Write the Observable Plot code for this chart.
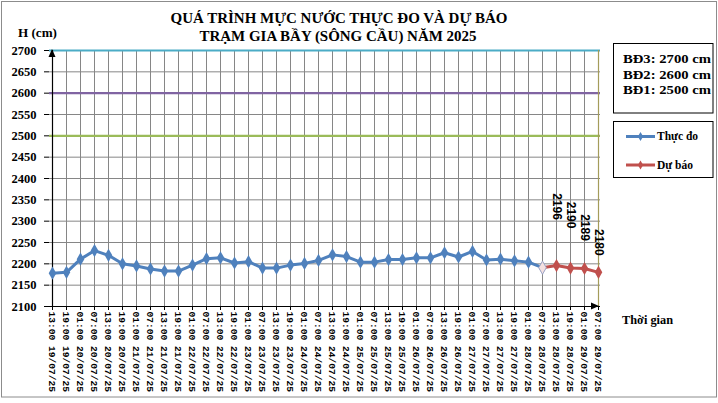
<!DOCTYPE html>
<html>
<head>
<meta charset="utf-8">
<script src="https://cdn.jsdelivr.net/npm/d3@7"></script>
<script src="https://cdn.jsdelivr.net/npm/@observablehq/plot@0.6"></script>
<style>
  html, body { margin: 0; padding: 0; background: #fff; }
  #chart { position: relative; width: 718px; height: 403px; }
  #chart svg { display: block; }
</style>
</head>
<body>
<div id="chart"></div>
<script>
// ---------- DATA ----------
const times = [
  "13:00 19/07/25","19:00 19/07/25",
  "01:00 20/07/25","07:00 20/07/25","13:00 20/07/25","19:00 20/07/25",
  "01:00 21/07/25","07:00 21/07/25","13:00 21/07/25","19:00 21/07/25",
  "01:00 22/07/25","07:00 22/07/25","13:00 22/07/25","19:00 22/07/25",
  "01:00 23/07/25","07:00 23/07/25","13:00 23/07/25","19:00 23/07/25",
  "01:00 24/07/25","07:00 24/07/25","13:00 24/07/25","19:00 24/07/25",
  "01:00 25/07/25","07:00 25/07/25","13:00 25/07/25","19:00 25/07/25",
  "01:00 26/07/25","07:00 26/07/25","13:00 26/07/25","19:00 26/07/25",
  "01:00 27/07/25","07:00 27/07/25","13:00 27/07/25","19:00 27/07/25",
  "01:00 28/07/25","07:00 28/07/25","13:00 28/07/25","19:00 28/07/25",
  "01:00 29/07/25","07:00 29/07/25"
];
// Observed water level (cm), 13:00 19/07 -> 07:00 28/07
const observed = [
  2178, 2180, 2211, 2231, 2220, 2200, 2195, 2188, 2183, 2183,
  2197, 2212, 2214, 2202, 2205, 2190, 2190, 2197, 2201, 2208,
  2221, 2217, 2204, 2204, 2210, 2210, 2214, 2214, 2226, 2216,
  2229, 2209, 2211, 2207, 2204, 2191
];
// Forecast (cm), starting from the last observed time 07:00 28/07
const forecast = [2191, 2196, 2190, 2189, 2180];
// Alarm levels
const alarmNames = ["BĐ3", "BĐ2", "BĐ1"];
const alarmLevels = [2700, 2600, 2500];
const yTicks = [2100, 2150, 2200, 2250, 2300, 2350, 2400, 2450, 2500, 2550, 2600, 2650, 2700];

// ---------- STYLE ----------
const alarmColors = ["#4bacc6", "#8064a2", "#9bbb59"];
const blue = "#4f81bd";
const red = "#c0504d";
const gridColor = "#868686";
const labelDy = [-59, -53, -41, -30];

const obsData = observed.map((v, i) => ({t: times[i], v}));
const fcStart = observed.length - 1;
const fcData = forecast.map((v, i) => ({t: times[fcStart + i], v}));
const alarmData = alarmLevels.map((v, i) => ({v, name: alarmNames[i], color: alarmColors[i]}));

const serif = "'Liberation Serif', 'Times New Roman', serif";

const chart = Plot.plot({
  width: 718,
  height: 403,
  marginLeft: 49,
  marginRight: 118,
  marginTop: 50,
  marginBottom: 97,
  style: {fontFamily: serif, background: "transparent", color: "#000", overflow: "visible"},
  x: {type: "point", domain: times, padding: 0},
  y: {domain: [2100, 2700]},
  marks: [
    Plot.gridX(times, {stroke: gridColor, strokeOpacity: 1, strokeWidth: 1}),
    Plot.gridY(yTicks, {stroke: gridColor, strokeOpacity: 1, strokeWidth: 1}),
    Plot.ruleY(alarmData, {y: "v", stroke: "color", strokeWidth: 2.2}),
    Plot.ruleX([times[times.length - 1]], {stroke: "#a49c5a", strokeWidth: 1.2}),
    Plot.axisY(yTicks, {tickSize: 5, tickPadding: 8, fontSize: 12.5, fontWeight: "bold", label: null, fill: "#000", tickFormat: (d) => String(d)}),
    Plot.axisX(times, {tickRotate: 90, tickSize: 4, tickPadding: 1, fontSize: 9.6, fontWeight: "bold", fontFamily: "'Liberation Mono', 'Courier New', monospace", label: null, fill: "#000"}),
    Plot.ruleX([times[0]], {stroke: "#000", strokeWidth: 1.2}),
    Plot.ruleY([2100], {stroke: "#000", strokeWidth: 1.2}),
    Plot.line(obsData, {x: "t", y: "v", stroke: blue, strokeWidth: 3}),
    Plot.dot(obsData, {x: "t", y: "v", symbol: "diamond", fill: blue, r: 4}),
    Plot.line(fcData, {x: "t", y: "v", stroke: red, strokeWidth: 3}),
    Plot.dot(fcData.slice(1), {x: "t", y: "v", symbol: "diamond", fill: red, r: 4}),
    Plot.dot(fcData.slice(0, 1), {x: "t", y: "v", symbol: "diamond", fill: "#f4e0e0", stroke: "#a0a8c8", strokeWidth: 1, r: 4}),
    ...fcData.slice(1).map((d, i) => Plot.text([d], {
      x: "t", y: "v", text: (p) => String(p.v), rotate: 90, dy: labelDy[i],
      fontSize: 12, fontWeight: "bold", fontFamily: "'Liberation Sans', Arial, sans-serif", fill: "#000"
    }))
  ]
});

document.getElementById("chart").appendChild(chart);

// ---------- Overlay: frame, titles, legends, arrows ----------
const svg = d3.select(chart);
const xs = chart.scale("x"), ys = chart.scale("y");
const x0 = xs.apply(times[0]), x1 = xs.apply(times[times.length - 1]);
const yTop = ys.apply(2700), yBot = ys.apply(2100);

svg.insert("rect", ":first-child")
  .attr("x", 1.5).attr("y", 1.5).attr("width", 715).attr("height", 395.5)
  .attr("fill", "#fff").attr("stroke", "#8c8c8c").attr("stroke-width", 1);

// arrows
svg.append("path")
  .attr("d", `M${x0},${yTop - 1} L${x0 - 3.5},${yTop + 7} L${x0 + 3.5},${yTop + 7} Z`)
  .attr("fill", "#000");
svg.append("path")
  .attr("d", `M${x1 + 1},${yBot} L${x1 - 7},${yBot - 3.5} L${x1 - 7},${yBot + 3.5} Z`)
  .attr("fill", "#000");

function txt(x, y, s, size, anchor, len) {
  const t = svg.append("text")
    .attr("x", x).attr("y", y)
    .attr("font-family", serif).attr("font-weight", "bold")
    .attr("font-size", size).attr("text-anchor", anchor || "start")
    .attr("fill", "#000").text(s);
  if (len) t.attr("textLength", len).attr("lengthAdjust", "spacingAndGlyphs");
  return t;
}

txt(339, 23, "QUÁ TRÌNH MỰC NƯỚC THỰC ĐO VÀ DỰ BÁO", 14.5, "middle", 337);
txt(338, 41, "TRẠM GIA BẦY (SÔNG CẦU) NĂM 2025", 14.5, "middle", 277);
txt(18, 37, "H (cm)", 12, "start", 39);
txt(622, 324, "Thời gian", 11.5, "start", 51);

// legend box 1: alarm levels
svg.append("rect").attr("x", 613.5).attr("y", 43.5).attr("width", 99.5).attr("height", 69.5)
  .attr("fill", "#fff").attr("stroke", "#000").attr("stroke-width", 1);
alarmData.forEach((d, i) => {
  txt(623, 63 + i * 15.5, `${d.name}: ${d.v} cm`, 12.5, "start", 88);
});

// legend box 2: series
svg.append("rect").attr("x", 613.5).attr("y", 121.5).attr("width", 99.5).attr("height", 56)
  .attr("fill", "#fff").attr("stroke", "#000").attr("stroke-width", 1);
const legendSeries = [
  {name: "Thực đo", color: blue, y: 136.5},
  {name: "Dự báo", color: red, y: 165}
];
legendSeries.forEach(s => {
  svg.append("line").attr("x1", 626).attr("x2", 655).attr("y1", s.y).attr("y2", s.y)
    .attr("stroke", s.color).attr("stroke-width", 3);
  svg.append("path").attr("d", d3.symbol(d3.symbolDiamond, 24)()).attr("transform", `translate(640.5,${s.y})`)
    .attr("fill", s.color);
  txt(657, s.y + 3.8, s.name, 11.5, "start");
});
</script>
</body>
</html>
